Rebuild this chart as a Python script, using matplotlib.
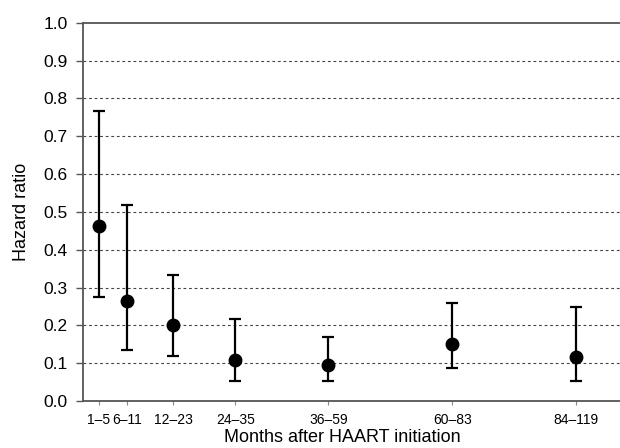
import matplotlib.pyplot as plt

# Data
periods = ['1\u20135', '6\u201311', '12\u201323', '24\u201335', '36\u201359', '60\u201383', '84\u2013119']
months_mid = [3, 8.5, 17.5, 29.5, 47.5, 71.5, 95.5]
hr = [0.462, 0.264, 0.200, 0.109, 0.095, 0.150, 0.115]
ci_low = [0.274, 0.134, 0.118, 0.054, 0.054, 0.088, 0.054]
ci_high = [0.768, 0.518, 0.334, 0.216, 0.168, 0.260, 0.249]

plt.rcParams['font.family'] = ['Liberation Sans', 'DejaVu Sans']

fig = plt.figure(figsize=(6.2, 4.48), dpi=100)
ax = fig.add_axes([0.134, 0.105, 0.866, 0.844])

yerr = [[h - lo for h, lo in zip(hr, ci_low)],
        [hi - h for h, hi in zip(hr, ci_high)]]
ax.errorbar(months_mid, hr, yerr=yerr, fmt='o', color='black',
            markersize=9, elinewidth=1.6, capsize=4.5, capthick=1.6, zorder=3)

ax.set_xlim(0, 104)
ax.set_ylim(0, 1.0)
ax.set_yticks([i / 10 for i in range(11)])
ax.set_yticklabels([f'{i / 10:.1f}' for i in range(11)], fontsize=12.5)
ax.set_xticks(months_mid)
ax.set_xticklabels(periods, fontsize=10)

for y in [i / 10 for i in range(1, 10)]:
    ax.axhline(y, color='#444444', linestyle=(0, (2.5, 2.5)), linewidth=0.8, zorder=1)

for side in ['left', 'bottom', 'top']:
    ax.spines[side].set_color('#555555')
    ax.spines[side].set_linewidth(1.3)
ax.spines['right'].set_visible(False)
ax.tick_params(axis='y', length=5, color='#555555', width=1, pad=6)
ax.tick_params(axis='x', length=3, color='#888888', width=0.8, pad=6)

ax.set_ylabel('Hazard ratio', fontsize=13)
ax.set_xlabel('Months after HAART initiation', fontsize=13)
ax.yaxis.set_label_coords(-0.099, 0.5)
ax.xaxis.set_label_coords(0.482, -0.074)

fig.savefig('out.png', dpi=100)
